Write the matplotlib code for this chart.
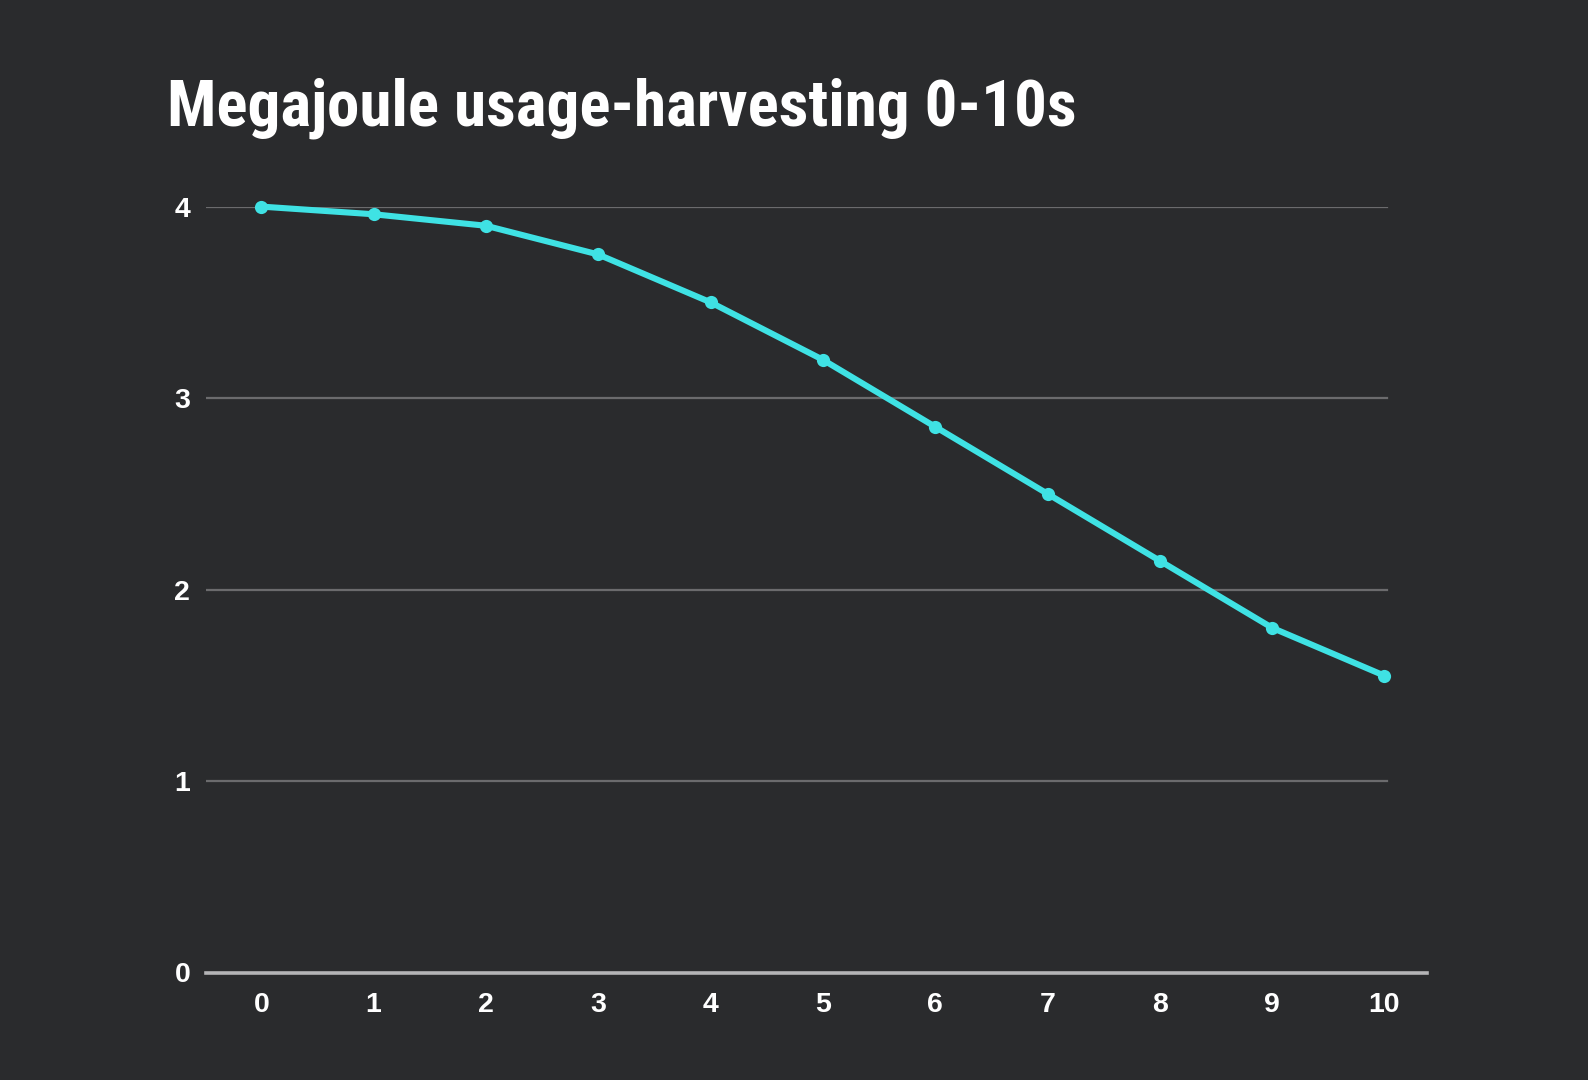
import matplotlib
matplotlib.use("Agg")
import matplotlib.pyplot as plt
from matplotlib import font_manager

# Energy drawn over the first ten seconds of harvesting
seconds = [0, 1, 2, 3, 4, 5, 6, 7, 8, 9, 10]
megajoules = [4.0, 3.96, 3.90, 3.75, 3.50, 3.20, 2.85, 2.50, 2.15, 1.80, 1.55]
y_ticks = [0, 1, 2, 3, 4]
title_text = "Megajoule usage-harvesting 0-10s"

W, H, DPI = 1588, 1080, 100
bg = "#2a2b2d"
line_color = "#3fe2e4"

names = {f.name for f in font_manager.fontManager.ttflist}
condensed = [n for n in ("Roboto Condensed", "Liberation Sans Narrow",
                         "Arial Narrow", "Open Sans Condensed",
                         "DejaVu Sans Condensed") if n in names]
title_family = condensed[:1] + ["Liberation Sans", "DejaVu Sans"]
tick_family = ["Liberation Sans", "DejaVu Sans"]

fig = plt.figure(figsize=(W / DPI, H / DPI), dpi=DPI, facecolor=bg)

# axes placed in pixel terms: y=0 baseline at 972 px, y=4 at 206 px
left_px, right_px = 205.6, 1427.0
bottom_px, top_px = 972.5, 206.6
ax = fig.add_axes([left_px / W, 1 - bottom_px / H,
                   (right_px - left_px) / W, (bottom_px - top_px) / H])
ax.set_facecolor("none")

x0_px, x10_px = 261.3, 1384.5
unit = (x10_px - x0_px) / 10
ax.set_xlim((left_px - x0_px) / unit, (right_px - x0_px) / unit)
ax.set_ylim(0, 4)

grid_end = (1387.0 - left_px) / (right_px - left_px)
for v in y_ticks[1:]:
    ax.axhline(v, xmin=0, xmax=grid_end, color="#6b6b6d", lw=1.6, zorder=1)
ax.axhline(0, xmin=0, xmax=1, color="#b4b4b6", lw=2.6, zorder=1, clip_on=False)

ax.plot(seconds, megajoules, color=line_color, lw=4.4, marker="o",
        markersize=9.5, markeredgewidth=0, zorder=3, clip_on=False,
        solid_capstyle="round", solid_joinstyle="round")

for s in ax.spines.values():
    s.set_visible(False)
ax.set_xticks(seconds)
ax.set_yticks(y_ticks)
ax.tick_params(length=0, colors="white", labelsize=20.5)
ax.tick_params(axis="y", pad=11)
ax.tick_params(axis="x", pad=14)
for lab in ax.get_xticklabels() + ax.get_yticklabels():
    lab.set_fontfamily(tick_family)
    lab.set_fontweight("bold")

title = fig.text(167 / W, 1 - 125.6 / H, title_text, color="white",
                 fontsize=46, fontweight="bold", family=title_family,
                 ha="left", va="baseline")

# size the heading so it spans the intended width
target_w = 1076.0 - 167.0
renderer = fig.canvas.get_renderer()
w = title.get_window_extent(renderer).width
title.set_fontsize(46 * target_w / w)

fig.savefig("out.png", dpi=DPI, facecolor=bg)
